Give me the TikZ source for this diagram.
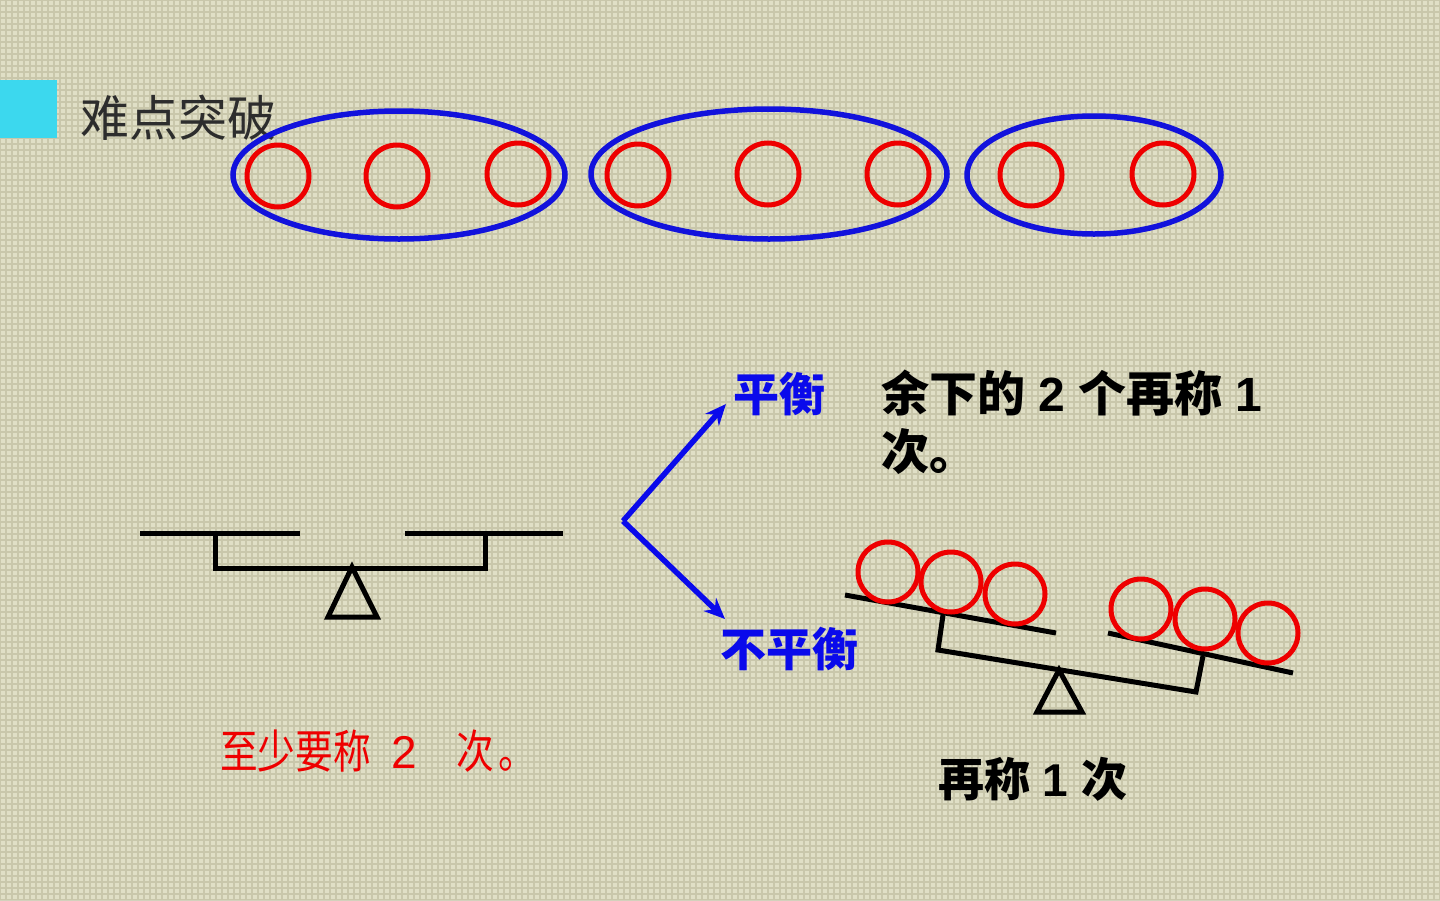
\documentclass[tikz,border=0pt]{standalone}
\usepackage{fontspec}
\newfontfamily\cjk{Noto Sans CJK SC}
\newfontfamily\cjkn[FakeStretch=0.82]{Noto Sans CJK SC}
\newfontfamily\lat{Liberation Sans}
\usetikzlibrary{arrows.meta}
\definecolor{bg}{RGB}{224,223,198}
\definecolor{bggrid}{RGB}{192,190,160}
\definecolor{cyanbox}{RGB}{60,216,238}
\definecolor{ringblue}{RGB}{18,18,220}
\definecolor{ballred}{RGB}{238,0,0}
\definecolor{txtblue}{RGB}{10,10,235}
\definecolor{titlegray}{RGB}{45,45,45}
\newcommand{\dg}[1]{{\lat\ #1\ }}
\tikzset{
  ring/.style={draw=ringblue,line width=5.5pt},
  ball/.style={draw=ballred,line width=5pt,circle,minimum size=62pt,inner sep=0pt},
  beam/.style={draw=black,line width=5pt},
  txt/.style={inner sep=0pt,anchor=west,font=\cjk\fontsize{46pt}{54pt}\selectfont},
  btxt/.style={txt,font=\cjk\bfseries\fontsize{48pt}{54pt}\selectfont},
  arr/.style={draw=txtblue,line width=5.5pt,-{Stealth[length=21pt,width=18pt]}}
}
\begin{document}
\begin{tikzpicture}[x=1pt,y=-1pt]
\fill[bg] (0,0) rectangle (1440,900);
\useasboundingbox (0,0) rectangle (1440,900);
\draw[bggrid,line width=1.3pt,opacity=0.7] (0,0) grid[step=6pt] (1440,900);
\fill[cyanbox] (0,80) rectangle (57,138);
\node[txt,text=titlegray,font=\cjk\fontsize{49pt}{54pt}\selectfont] (title) at (80,118) {难点突破};
% groups
\draw[ring] (399,175) ellipse [x radius=166,y radius=64];
\draw[ring] (769,174) ellipse [x radius=178,y radius=65];
\draw[ring] (1094,175) ellipse [x radius=127,y radius=59];
\foreach \n/\x/\y in {a/278/176,b/397/176,c/518/174,d/638/175,e/768/174,f/898/174,g/1031/175,h/1163/174}
  \node[ball] (\n) at (\x,\y) {};
% level balance
\draw[beam] (140,533) -- (300,533);
\draw[beam] (405,533) -- (563,533);
\draw[beam,line join=miter] (215,533) -- (215,568) -- (485,568) -- (485,533);
\draw[beam,line join=miter] (352,567) -- (377,617) -- (328,617) -- cycle;
% arrows
\coordinate (fork) at (623,521);
\node[btxt,text=txtblue,font=\cjk\bfseries\fontsize{46pt}{54pt}\selectfont] (bal) at (733,394) {平衡};
\node[btxt,text=txtblue,font=\cjk\bfseries\fontsize{46pt}{54pt}\selectfont] (unbal) at (720,649) {不平衡};
\draw[arr] (fork) -- (726,404);
\draw[arr] (fork) -- (725,619);
% texts
\node[btxt] (t1) at (881,393) {余下的\dg{2}个再称\dg{1}};
\node[btxt] (t2) at (881,452) {次。};
\node[txt,text=ballred] (t3) at (220,751) {{\cjkn 至少要称}\hspace{20pt}{\lat 2}\hspace{40pt}{\cjkn 次}\hspace{4pt}{\cjkn 。}};
\node[txt,font=\cjk\bfseries\fontsize{46pt}{54pt}\selectfont] (t4) at (938,779) {再称\dg{1}次};
% tilted balance
\draw[beam] (845,595) -- (1056,633);
\draw[beam] (1108,633) -- (1293,673);
\draw[beam,line join=miter] (943,615) -- (938,650) -- (1196,692) -- (1203,656);
\draw[beam,line join=miter] (1059,670) -- (1082,712) -- (1037,712) -- cycle;
\foreach \n/\x/\y in {p/888/572,q/951/582,r/1015/594,s/1141/609,t/1205/619,u/1268/633}
  \node[ball,minimum size=60pt] (\n) at (\x,\y) {};
\end{tikzpicture}
\end{document}
